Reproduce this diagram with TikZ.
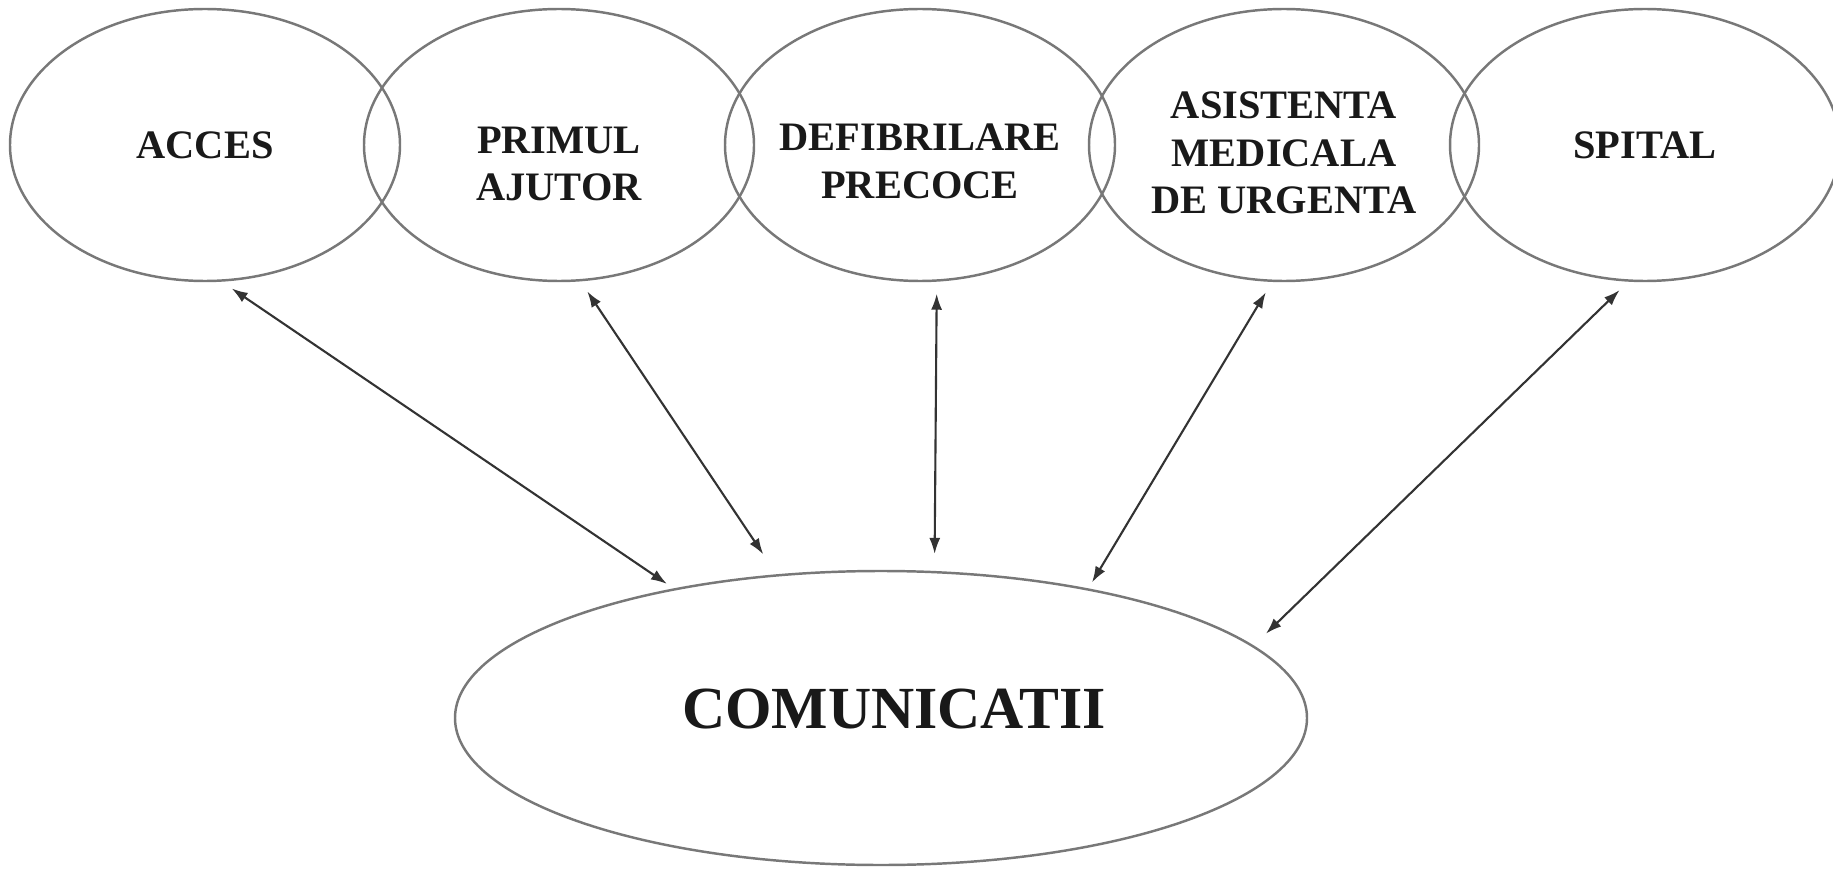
\documentclass[tikz,border=0pt]{standalone}
\usepackage{fontspec}
\setmainfont{Liberation Serif}
\usetikzlibrary{shapes.geometric,arrows.meta}
\definecolor{chaingray}{RGB}{120,120,120}
\definecolor{chaintext}{RGB}{25,25,25}

\begin{document}
\begin{tikzpicture}[
    linkbox/.style={ellipse, draw=chaingray, line width=0.7pt, inner sep=0pt,
                    minimum width=3.9cm, minimum height=2.72cm},
    linktext/.style={align=center, text=chaintext, inner sep=0pt,
                     font=\fontsize{11.5}{13.6}\selectfont\bfseries},
    hubbox/.style={ellipse, draw=chaingray, line width=0.7pt, inner sep=0pt,
                   minimum width=8.52cm, minimum height=2.94cm},
    hubtext/.style={text=chaintext, inner sep=0pt,
                    font=\fontsize{17}{20}\selectfont\bfseries},
    link/.style={{Latex[length=1.6mm,width=1.1mm]}-{Latex[length=1.6mm,width=1.1mm]},
                 line width=0.6pt, draw=black!80, shorten <=1.2mm}
]
    \useasboundingbox (0,0) rectangle (18.33,-8.69);

    % Chain links
    \node[linkbox, label={[linktext]center:ACCES}] (acces) at (2.05,-1.45) {};
    \node[linkbox, label={[linktext, yshift=-1.9mm]center:PRIMUL\\AJUTOR}] (ajutor) at (5.59,-1.45) {};
    \node[linkbox, label={[linktext, yshift=-1.6mm]center:DEFIBRILARE\\PRECOCE}] (defib) at (9.20,-1.45) {};
    \node[linkbox, label={[linktext, yshift=-0.8mm]center:ASISTENTA\\MEDICALA\\DE URGENTA}] (urgenta) at (12.84,-1.45) {};
    \node[linkbox, label={[linktext]center:SPITAL}] (spital) at (16.45,-1.45) {};

    % Hub
    \node[hubbox, label={[hubtext, xshift=1.3mm, yshift=0.9mm]center:COMUNICATII}] (comm) at (8.81,-7.18) {};

    % Connections
    \draw[link, shorten >=0.8mm] (acces.-83) -- (comm.148);
    \draw[link, shorten >=2.4mm] (ajutor.-81) -- (comm.126);
    \draw[link, shorten >=1.7mm] (defib.-83) -- (comm.70);
    \draw[link, shorten >=0.7mm] (urgenta.-95) -- (comm.32);
    \draw[link, shorten >=1.7mm] (spital.-97) -- (comm.11);
\end{tikzpicture}
\end{document}
